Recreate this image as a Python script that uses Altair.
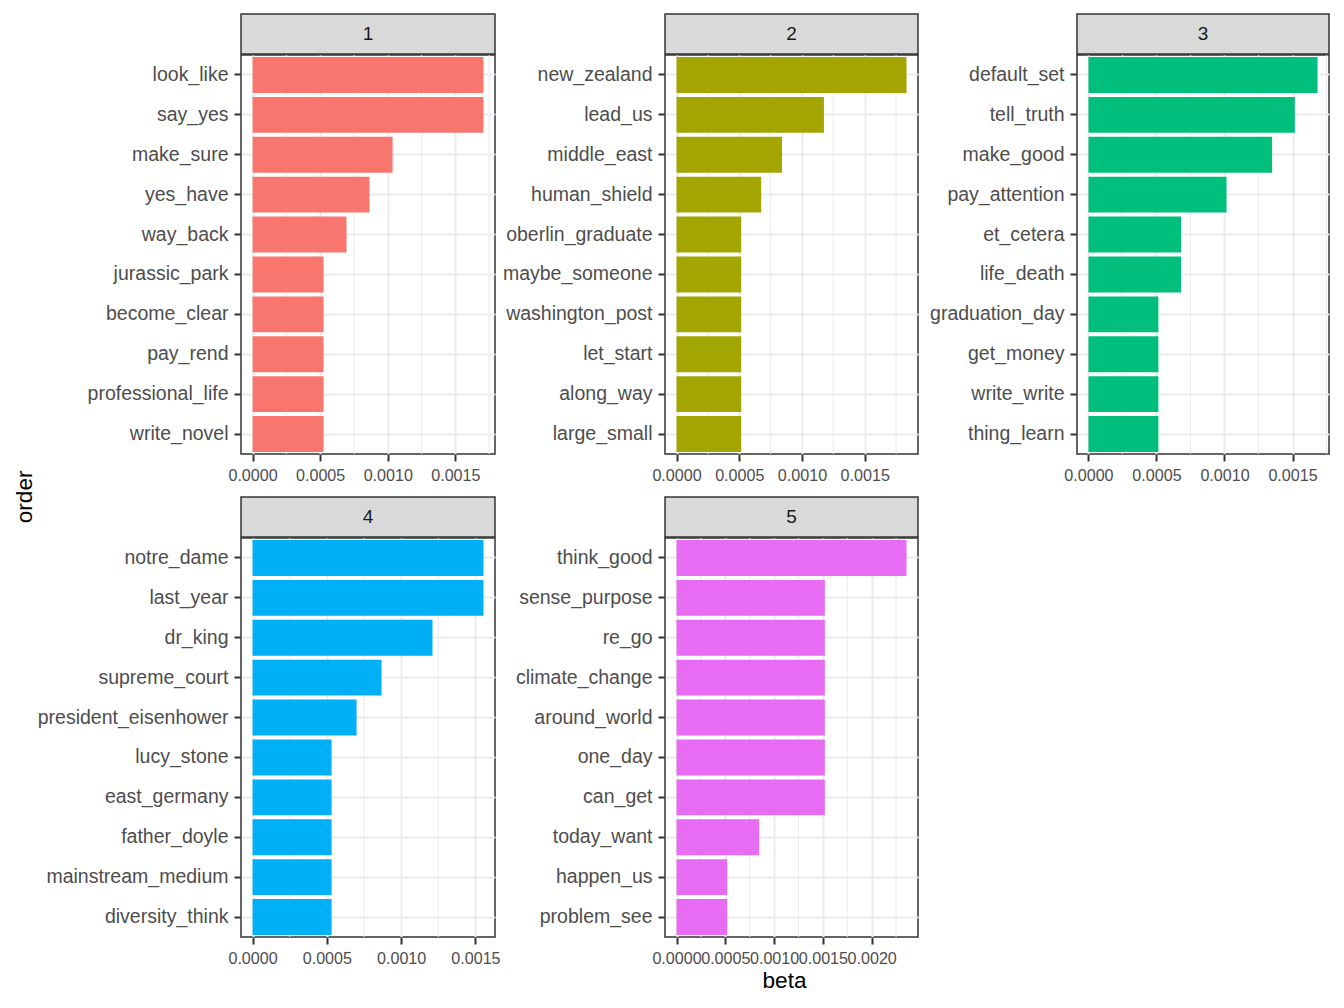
import altair as alt
import pandas as pd

FONT = "Liberation Sans"

topics = ["1", "2", "3", "4", "5"]
colors = ["#F8766D", "#A3A500", "#00BF7D", "#00B0F6", "#E76BF3"]

terms_1 = ["look_like", "say_yes", "make_sure", "yes_have", "way_back", "jurassic_park",
           "become_clear", "pay_rend", "professional_life", "write_novel"]
beta_1 = [0.001708, 0.001708, 0.001036, 0.000865, 0.000695, 0.000525, 0.000525, 0.000525, 0.000525, 0.000525]

terms_2 = ["new_zealand", "lead_us", "middle_east", "human_shield", "oberlin_graduate", "maybe_someone",
           "washington_post", "let_start", "along_way", "large_small"]
beta_2 = [0.001833, 0.001175, 0.000841, 0.000675, 0.000516, 0.000516, 0.000516, 0.000516, 0.000516, 0.000516]

terms_3 = ["default_set", "tell_truth", "make_good", "pay_attention", "et_cetera", "life_death",
           "graduation_day", "get_money", "write_write", "thing_learn"]
beta_3 = [0.001684, 0.001517, 0.001350, 0.001015, 0.000681, 0.000681, 0.000514, 0.000514, 0.000514, 0.000514]

terms_4 = ["notre_dame", "last_year", "dr_king", "supreme_court", "president_eisenhower", "lucy_stone",
           "east_germany", "father_doyle", "mainstream_medium", "diversity_think"]
beta_4 = [0.001554, 0.001554, 0.001211, 0.000868, 0.000700, 0.000532, 0.000532, 0.000532, 0.000532, 0.000532]

terms_5 = ["think_good", "sense_purpose", "re_go", "climate_change", "around_world", "one_day",
           "can_get", "today_want", "happen_us", "problem_see"]
beta_5 = [0.002357, 0.001520, 0.001520, 0.001520, 0.001520, 0.001520, 0.001520, 0.000847, 0.000520, 0.000520]

terms = [terms_1, terms_2, terms_3, terms_4, terms_5]
betas = [beta_1, beta_2, beta_3, beta_4, beta_5]

major_breaks = [0.0, 0.0005, 0.0010, 0.0015, 0.0020]
minor_breaks = [0.00025, 0.00075, 0.00125, 0.00175, 0.00225]

widths = [254, 253, 252, 254, 253]
heights = [399, 399, 399, 399, 399]

GRID = "#EBEBEB"
DARK = "#333333"
LABEL = "#4D4D4D"


def strip(i):
    w = widths[i]
    return alt.Chart(pd.DataFrame({"t": [topics[i]]})).mark_text(
        fontSize=19, color="#1A1A1A", font=FONT, baseline="middle", align="center"
    ).encode(
        text="t:N", x=alt.value(w / 2), y=alt.value(20)
    ).properties(
        width=w, height=40,
        view=alt.ViewBackground(fill="#D9D9D9", stroke=DARK, strokeWidth=1.5)
    )


def panel(i, beta_title=False):
    w = widths[i]
    mx = max(betas[i])
    dom = [-0.05 * mx, 1.05 * mx]
    df = pd.DataFrame({"term": terms[i], "beta": betas[i], "topic": topics[i]})
    minor = pd.DataFrame({"v": [v for v in minor_breaks if dom[0] <= v <= dom[1]]})
    majors = [v for v in major_breaks if dom[0] <= v <= dom[1]]
    xscale = alt.Scale(domain=dom, nice=False, zero=False)
    axis_kw = dict(
        values=majors, format=".4f", grid=True, gridColor=GRID, gridWidth=2,
        domain=False, tickColor=DARK, tickWidth=2, tickSize=7,
        labelColor=LABEL, labelFontSize=16.1, labelFont=FONT, labelPadding=6,
        labelOverlap=False, labelFlush=False,
    )
    if beta_title:
        xaxis = alt.Axis(title="beta", titleFontSize=22.6, titleFont=FONT, titleFontWeight="normal",
                         titleColor="black", titleX=784 - 665, titlePadding=3, **axis_kw)
    else:
        xaxis = alt.Axis(title=None, **axis_kw)
    rules = alt.Chart(minor).mark_rule(color=GRID, strokeWidth=1).encode(
        x=alt.X("v:Q", scale=xscale, axis=xaxis)
    )
    bars = alt.Chart(df).mark_bar(color=colors[i]).encode(
        x=alt.X("beta:Q", scale=xscale, axis=xaxis),
        y=alt.Y("term:N", sort=terms[i],
                scale=alt.Scale(paddingInner=0.1, paddingOuter=0.05),
                axis=alt.Axis(title=None, grid=True, gridColor=GRID, gridWidth=2, domain=False,
                              tickColor=DARK, tickWidth=2, tickSize=7, labelColor=LABEL,
                              labelFontSize=19.5, labelFont=FONT, labelPadding=6, labelLimit=0)),
    )
    return alt.layer(rules, bars).properties(
        width=w, height=heights[i],
        view=alt.ViewBackground(fill="white", stroke=DARK, strokeWidth=1.5)
    )


def cell(i, beta_title=False):
    return alt.vconcat(strip(i), panel(i, beta_title), spacing=-2).resolve_scale(
        x="independent", y="independent")


col1 = alt.vconcat(cell(0), cell(3), spacing=12).resolve_scale(x="independent", y="independent")
col2 = alt.vconcat(cell(1), cell(4, True), spacing=12).resolve_scale(x="independent", y="independent")
col3 = cell(2)

left = alt.hconcat(col1, col2, spacing=0).resolve_scale(x="independent", y="independent")

chart = alt.hconcat(left, col3, spacing=9).resolve_scale(
    x="independent", y="independent"
).properties(
    title=alt.TitleParams("order", orient="left", anchor="middle", fontSize=22.6, font=FONT,
                          fontWeight="normal", color="black", offset=0, dx=6),
    padding={"left": 13, "top": 13, "right": 10, "bottom": 5},
    background="white",
).configure_view(stroke=DARK, strokeWidth=1.5)

chart.save("out.html", embed_options={"renderer": "svg", "actions": False})
